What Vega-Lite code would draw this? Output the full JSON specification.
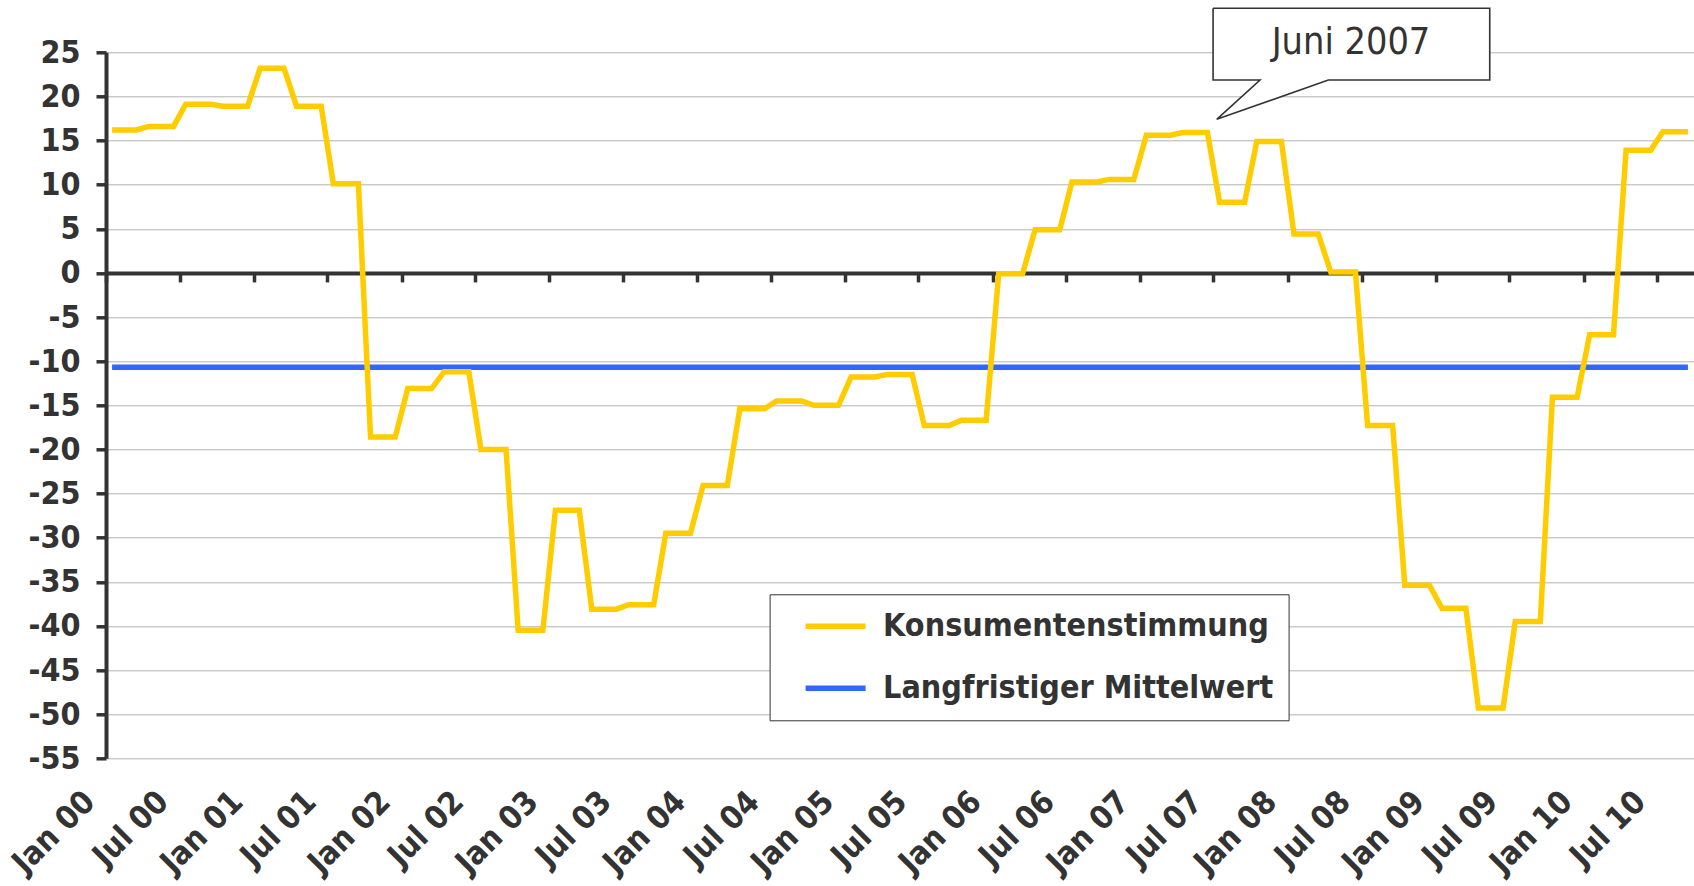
{
  "$schema": "https://vega.github.io/schema/vega-lite/v6.json",
  "width": 1588,
  "height": 706,
  "autosize": {"type": "none"},
  "padding": {"left": 106, "top": 52.3, "right": 0, "bottom": 127.7},
  "background": "white",
  "config": {
    "view": {"stroke": null},
    "legend": {
      "padding": 15,
      "clipHeight": 34,
      "rowPadding": 28,
      "symbolOffset": 18,
      "symbolSize": 3600,
      "symbolStrokeWidth": 5.5,
      "symbolType": "stroke",
      "labelOffset": 14.5,
      "labelFont": "DejaVu Sans Condensed",
      "labelFontSize": 32,
      "labelFontWeight": "bold",
      "labelColor": "#333333",
      "labelLimit": 1000,
      "labelExpr": "datum.label + '\u00a0\u00a0'",
      "strokeColor": "#333333",
      "fillColor": "white"
    }
  },
  "datasets": {
    "konsum": [
      {"d": "2000-01-16", "v": 16.2, "s": "Konsumentenstimmung"},
      {"d": "2000-02-16", "v": 16.2, "s": "Konsumentenstimmung"},
      {"d": "2000-03-16", "v": 16.2, "s": "Konsumentenstimmung"},
      {"d": "2000-04-16", "v": 16.6, "s": "Konsumentenstimmung"},
      {"d": "2000-05-16", "v": 16.6, "s": "Konsumentenstimmung"},
      {"d": "2000-06-16", "v": 16.6, "s": "Konsumentenstimmung"},
      {"d": "2000-07-16", "v": 19.1, "s": "Konsumentenstimmung"},
      {"d": "2000-08-16", "v": 19.1, "s": "Konsumentenstimmung"},
      {"d": "2000-09-16", "v": 19.1, "s": "Konsumentenstimmung"},
      {"d": "2000-10-16", "v": 18.9, "s": "Konsumentenstimmung"},
      {"d": "2000-11-16", "v": 18.9, "s": "Konsumentenstimmung"},
      {"d": "2000-12-16", "v": 18.9, "s": "Konsumentenstimmung"},
      {"d": "2001-01-16", "v": 23.2, "s": "Konsumentenstimmung"},
      {"d": "2001-02-16", "v": 23.2, "s": "Konsumentenstimmung"},
      {"d": "2001-03-16", "v": 23.2, "s": "Konsumentenstimmung"},
      {"d": "2001-04-16", "v": 18.9, "s": "Konsumentenstimmung"},
      {"d": "2001-05-16", "v": 18.9, "s": "Konsumentenstimmung"},
      {"d": "2001-06-16", "v": 18.9, "s": "Konsumentenstimmung"},
      {"d": "2001-07-16", "v": 10.1, "s": "Konsumentenstimmung"},
      {"d": "2001-08-16", "v": 10.1, "s": "Konsumentenstimmung"},
      {"d": "2001-09-16", "v": 10.1, "s": "Konsumentenstimmung"},
      {"d": "2001-10-16", "v": -18.6, "s": "Konsumentenstimmung"},
      {"d": "2001-11-16", "v": -18.6, "s": "Konsumentenstimmung"},
      {"d": "2001-12-16", "v": -18.6, "s": "Konsumentenstimmung"},
      {"d": "2002-01-16", "v": -13.1, "s": "Konsumentenstimmung"},
      {"d": "2002-02-16", "v": -13.1, "s": "Konsumentenstimmung"},
      {"d": "2002-03-16", "v": -13.1, "s": "Konsumentenstimmung"},
      {"d": "2002-04-16", "v": -11.2, "s": "Konsumentenstimmung"},
      {"d": "2002-05-16", "v": -11.2, "s": "Konsumentenstimmung"},
      {"d": "2002-06-16", "v": -11.2, "s": "Konsumentenstimmung"},
      {"d": "2002-07-16", "v": -20.0, "s": "Konsumentenstimmung"},
      {"d": "2002-08-16", "v": -20.0, "s": "Konsumentenstimmung"},
      {"d": "2002-09-16", "v": -20.0, "s": "Konsumentenstimmung"},
      {"d": "2002-10-16", "v": -40.5, "s": "Konsumentenstimmung"},
      {"d": "2002-11-16", "v": -40.5, "s": "Konsumentenstimmung"},
      {"d": "2002-12-16", "v": -40.5, "s": "Konsumentenstimmung"},
      {"d": "2003-01-16", "v": -26.9, "s": "Konsumentenstimmung"},
      {"d": "2003-02-16", "v": -26.9, "s": "Konsumentenstimmung"},
      {"d": "2003-03-16", "v": -26.9, "s": "Konsumentenstimmung"},
      {"d": "2003-04-16", "v": -38.1, "s": "Konsumentenstimmung"},
      {"d": "2003-05-16", "v": -38.1, "s": "Konsumentenstimmung"},
      {"d": "2003-06-16", "v": -38.1, "s": "Konsumentenstimmung"},
      {"d": "2003-07-16", "v": -37.6, "s": "Konsumentenstimmung"},
      {"d": "2003-08-16", "v": -37.6, "s": "Konsumentenstimmung"},
      {"d": "2003-09-16", "v": -37.6, "s": "Konsumentenstimmung"},
      {"d": "2003-10-16", "v": -29.5, "s": "Konsumentenstimmung"},
      {"d": "2003-11-16", "v": -29.5, "s": "Konsumentenstimmung"},
      {"d": "2003-12-16", "v": -29.5, "s": "Konsumentenstimmung"},
      {"d": "2004-01-16", "v": -24.1, "s": "Konsumentenstimmung"},
      {"d": "2004-02-16", "v": -24.1, "s": "Konsumentenstimmung"},
      {"d": "2004-03-16", "v": -24.1, "s": "Konsumentenstimmung"},
      {"d": "2004-04-16", "v": -15.4, "s": "Konsumentenstimmung"},
      {"d": "2004-05-16", "v": -15.4, "s": "Konsumentenstimmung"},
      {"d": "2004-06-16", "v": -15.4, "s": "Konsumentenstimmung"},
      {"d": "2004-07-16", "v": -14.5, "s": "Konsumentenstimmung"},
      {"d": "2004-08-16", "v": -14.5, "s": "Konsumentenstimmung"},
      {"d": "2004-09-16", "v": -14.5, "s": "Konsumentenstimmung"},
      {"d": "2004-10-16", "v": -15.0, "s": "Konsumentenstimmung"},
      {"d": "2004-11-16", "v": -15.0, "s": "Konsumentenstimmung"},
      {"d": "2004-12-16", "v": -15.0, "s": "Konsumentenstimmung"},
      {"d": "2005-01-16", "v": -11.8, "s": "Konsumentenstimmung"},
      {"d": "2005-02-16", "v": -11.8, "s": "Konsumentenstimmung"},
      {"d": "2005-03-16", "v": -11.8, "s": "Konsumentenstimmung"},
      {"d": "2005-04-16", "v": -11.5, "s": "Konsumentenstimmung"},
      {"d": "2005-05-16", "v": -11.5, "s": "Konsumentenstimmung"},
      {"d": "2005-06-16", "v": -11.5, "s": "Konsumentenstimmung"},
      {"d": "2005-07-16", "v": -17.3, "s": "Konsumentenstimmung"},
      {"d": "2005-08-16", "v": -17.3, "s": "Konsumentenstimmung"},
      {"d": "2005-09-16", "v": -17.3, "s": "Konsumentenstimmung"},
      {"d": "2005-10-16", "v": -16.7, "s": "Konsumentenstimmung"},
      {"d": "2005-11-16", "v": -16.7, "s": "Konsumentenstimmung"},
      {"d": "2005-12-16", "v": -16.7, "s": "Konsumentenstimmung"},
      {"d": "2006-01-16", "v": -0.1, "s": "Konsumentenstimmung"},
      {"d": "2006-02-16", "v": -0.1, "s": "Konsumentenstimmung"},
      {"d": "2006-03-16", "v": -0.1, "s": "Konsumentenstimmung"},
      {"d": "2006-04-16", "v": 4.9, "s": "Konsumentenstimmung"},
      {"d": "2006-05-16", "v": 4.9, "s": "Konsumentenstimmung"},
      {"d": "2006-06-16", "v": 4.9, "s": "Konsumentenstimmung"},
      {"d": "2006-07-16", "v": 10.3, "s": "Konsumentenstimmung"},
      {"d": "2006-08-16", "v": 10.3, "s": "Konsumentenstimmung"},
      {"d": "2006-09-16", "v": 10.3, "s": "Konsumentenstimmung"},
      {"d": "2006-10-16", "v": 10.6, "s": "Konsumentenstimmung"},
      {"d": "2006-11-16", "v": 10.6, "s": "Konsumentenstimmung"},
      {"d": "2006-12-16", "v": 10.6, "s": "Konsumentenstimmung"},
      {"d": "2007-01-16", "v": 15.6, "s": "Konsumentenstimmung"},
      {"d": "2007-02-16", "v": 15.6, "s": "Konsumentenstimmung"},
      {"d": "2007-03-16", "v": 15.6, "s": "Konsumentenstimmung"},
      {"d": "2007-04-16", "v": 15.9, "s": "Konsumentenstimmung"},
      {"d": "2007-05-16", "v": 15.9, "s": "Konsumentenstimmung"},
      {"d": "2007-06-16", "v": 15.9, "s": "Konsumentenstimmung"},
      {"d": "2007-07-16", "v": 8.0, "s": "Konsumentenstimmung"},
      {"d": "2007-08-16", "v": 8.0, "s": "Konsumentenstimmung"},
      {"d": "2007-09-16", "v": 8.0, "s": "Konsumentenstimmung"},
      {"d": "2007-10-16", "v": 14.9, "s": "Konsumentenstimmung"},
      {"d": "2007-11-16", "v": 14.9, "s": "Konsumentenstimmung"},
      {"d": "2007-12-16", "v": 14.9, "s": "Konsumentenstimmung"},
      {"d": "2008-01-16", "v": 4.4, "s": "Konsumentenstimmung"},
      {"d": "2008-02-16", "v": 4.4, "s": "Konsumentenstimmung"},
      {"d": "2008-03-16", "v": 4.4, "s": "Konsumentenstimmung"},
      {"d": "2008-04-16", "v": 0.1, "s": "Konsumentenstimmung"},
      {"d": "2008-05-16", "v": 0.1, "s": "Konsumentenstimmung"},
      {"d": "2008-06-16", "v": 0.1, "s": "Konsumentenstimmung"},
      {"d": "2008-07-16", "v": -17.3, "s": "Konsumentenstimmung"},
      {"d": "2008-08-16", "v": -17.3, "s": "Konsumentenstimmung"},
      {"d": "2008-09-16", "v": -17.3, "s": "Konsumentenstimmung"},
      {"d": "2008-10-16", "v": -35.4, "s": "Konsumentenstimmung"},
      {"d": "2008-11-16", "v": -35.4, "s": "Konsumentenstimmung"},
      {"d": "2008-12-16", "v": -35.4, "s": "Konsumentenstimmung"},
      {"d": "2009-01-16", "v": -38.0, "s": "Konsumentenstimmung"},
      {"d": "2009-02-16", "v": -38.0, "s": "Konsumentenstimmung"},
      {"d": "2009-03-16", "v": -38.0, "s": "Konsumentenstimmung"},
      {"d": "2009-04-16", "v": -49.3, "s": "Konsumentenstimmung"},
      {"d": "2009-05-16", "v": -49.3, "s": "Konsumentenstimmung"},
      {"d": "2009-06-16", "v": -49.3, "s": "Konsumentenstimmung"},
      {"d": "2009-07-16", "v": -39.5, "s": "Konsumentenstimmung"},
      {"d": "2009-08-16", "v": -39.5, "s": "Konsumentenstimmung"},
      {"d": "2009-09-16", "v": -39.5, "s": "Konsumentenstimmung"},
      {"d": "2009-10-16", "v": -14.1, "s": "Konsumentenstimmung"},
      {"d": "2009-11-16", "v": -14.1, "s": "Konsumentenstimmung"},
      {"d": "2009-12-16", "v": -14.1, "s": "Konsumentenstimmung"},
      {"d": "2010-01-16", "v": -7.0, "s": "Konsumentenstimmung"},
      {"d": "2010-02-16", "v": -7.0, "s": "Konsumentenstimmung"},
      {"d": "2010-03-16", "v": -7.0, "s": "Konsumentenstimmung"},
      {"d": "2010-04-16", "v": 13.9, "s": "Konsumentenstimmung"},
      {"d": "2010-05-16", "v": 13.9, "s": "Konsumentenstimmung"},
      {"d": "2010-06-16", "v": 13.9, "s": "Konsumentenstimmung"},
      {"d": "2010-07-16", "v": 16.0, "s": "Konsumentenstimmung"},
      {"d": "2010-08-16", "v": 16.0, "s": "Konsumentenstimmung"},
      {"d": "2010-09-16", "v": 16.0, "s": "Konsumentenstimmung"}
    ],
    "mittel": [
      {"d": "2000-01-16", "v": -10.7, "s": "Langfristiger Mittelwert"},
      {"d": "2010-09-16", "v": -10.7, "s": "Langfristiger Mittelwert"}
    ],
    "callout": [
      {"d": "2007-06-30", "v": 30, "o": 1},
      {"d": "2009-05-14", "v": 30, "o": 2},
      {"d": "2009-05-14", "v": 21.86, "o": 3},
      {"d": "2008-04-10", "v": 21.86, "o": 4},
      {"d": "2007-07-09", "v": 17.4, "o": 5},
      {"d": "2007-10-24", "v": 21.86, "o": 6},
      {"d": "2007-06-30", "v": 21.86, "o": 7},
      {"d": "2007-06-30", "v": 30, "o": 8}
    ],
    "label": [
      {"d": "2008-06-05", "v": 24.77, "t": "Juni 2007"}
    ]
  },
  "resolve": {"axis": {"x": "independent", "y": "independent"}},
  "layer": [
    {
      "data": {"name": "mittel"},
      "mark": {"type": "line", "strokeWidth": 5.5},
      "encoding": {
        "x": {
          "field": "d", "type": "temporal",
          "scale": {"type": "utc", "domain": [{"year": 2000, "month": 1, "date": 1, "utc": true}, {"year": 2010, "month": 10, "date": 1, "utc": true}], "nice": false},
          "axis": {
            "orient": "bottom", "offset": -485.375, "title": null,
            "labels": false, "grid": false,
            "domain": true, "domainColor": "#333333", "domainWidth": 4,
            "ticks": true, "tickColor": "#333333", "tickSize": 9, "tickWidth": 3.5,
            "tickCount": {"interval": "month", "step": 6}
          }
        },
        "y": {
          "field": "v", "type": "quantitative",
          "scale": {"domain": [-55, 25], "nice": false, "zero": false},
          "axis": {
            "orient": "left", "title": null,
            "values": [-55, -50, -45, -40, -35, -30, -25, -20, -15, -10, -5, 0, 5, 10, 15, 20, 25],
            "labelExpr": "'' + datum.value",
            "grid": true, "gridColor": "#666666", "gridDash": [1, 1], "gridWidth": 1,
            "domain": true, "domainColor": "#333333", "domainWidth": 4,
            "ticks": true, "tickColor": "#333333", "tickSize": 10, "tickWidth": 3.5,
            "labelFont": "DejaVu Sans Condensed", "labelFontWeight": "bold", "labelFontSize": 32,
            "labelColor": "#333333", "labelPadding": 16
          }
        },
        "color": {
          "field": "s", "type": "nominal",
          "scale": {"domain": ["Konsumentenstimmung", "Langfristiger Mittelwert"], "range": ["#FFCC00", "#3366FF"]},
          "legend": {"orient": "none", "legendX": 663.6, "legendY": 542, "title": null, "direction": "vertical"}
        }
      }
    },
    {
      "data": {"name": "konsum"},
      "mark": {"type": "line", "strokeWidth": 5.5},
      "encoding": {
        "x": {
          "field": "d", "type": "temporal",
          "scale": {"type": "utc", "domain": [{"year": 2000, "month": 1, "date": 1, "utc": true}, {"year": 2010, "month": 10, "date": 1, "utc": true}], "nice": false},
          "axis": {
            "orient": "bottom", "title": null,
            "domain": false, "ticks": false, "grid": false, "tickSize": 0,
            "tickCount": {"interval": "month", "step": 6},
            "labelExpr": "utcFormat(datum.value, '%b %y')",
            "labelAngle": -45, "labelAlign": "right", "labelBaseline": "middle",
            "labelOffset": -17, "labelPadding": 38,
            "labelFont": "DejaVu Sans Condensed", "labelFontWeight": "bold", "labelFontSize": 32,
            "labelColor": "#333333", "labelOverlap": false, "labelBound": false, "labelFlush": false
          }
        },
        "y": {
          "field": "v", "type": "quantitative",
          "scale": {"domain": [-55, 25], "nice": false, "zero": false},
          "axis": null
        },
        "color": {
          "field": "s", "type": "nominal",
          "scale": {"domain": ["Konsumentenstimmung", "Langfristiger Mittelwert"], "range": ["#FFCC00", "#3366FF"]},
          "legend": {"orient": "none", "legendX": 663.6, "legendY": 542, "title": null, "direction": "vertical"}
        }
      }
    },
    {
      "data": {"name": "callout"},
      "mark": {"type": "line", "fill": "white", "stroke": "#333333", "strokeWidth": 1.6, "strokeJoin": "miter"},
      "encoding": {
        "x": {"field": "d", "type": "temporal", "axis": null},
        "y": {"field": "v", "type": "quantitative", "axis": null},
        "order": {"field": "o", "type": "quantitative"}
      }
    },
    {
      "data": {"name": "label"},
      "mark": {"type": "text", "align": "center", "baseline": "alphabetic", "font": "DejaVu Sans Condensed", "fontSize": 37.5, "color": "#333333"},
      "encoding": {
        "x": {"field": "d", "type": "temporal", "axis": null},
        "y": {"field": "v", "type": "quantitative", "axis": null},
        "text": {"field": "t"}
      }
    }
  ]
}
